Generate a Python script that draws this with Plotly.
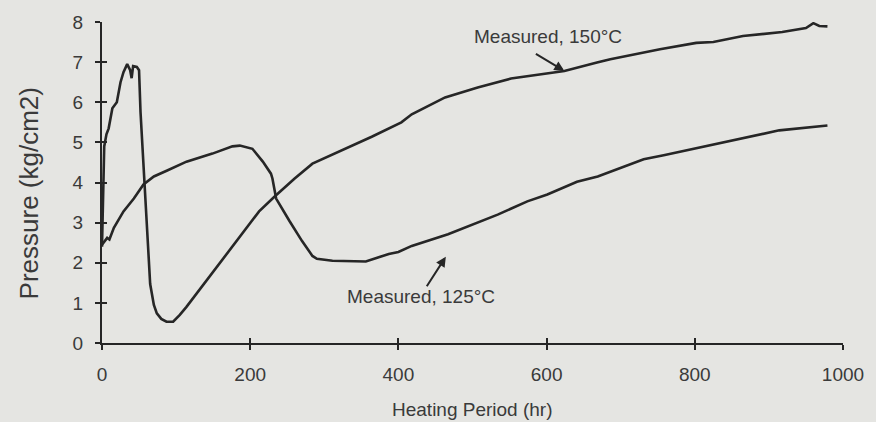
import plotly.graph_objects as go

# Measured, 150°C
hr_150 = [0, 3, 6, 9, 14, 20, 25, 29, 34, 38, 40, 42, 47, 50, 52, 56, 61, 65, 70, 74, 80, 87, 96, 105, 114,
          141, 168, 195, 212, 233, 260, 284, 320, 364, 404, 418, 463, 507, 552, 624, 668, 686, 753, 802,
          825, 865, 918, 950, 960, 968, 979]
p_150 = [2.4, 4.9, 5.2, 5.35, 5.85, 6.0, 6.5, 6.75, 6.95, 6.8, 6.6, 6.9, 6.88, 6.8, 5.75, 4.35, 2.7, 1.47,
         0.95, 0.74, 0.6, 0.53, 0.53, 0.7, 0.9, 1.56, 2.22, 2.87, 3.28, 3.65, 4.1, 4.47, 4.77, 5.14, 5.5,
         5.7, 6.12, 6.37, 6.59, 6.78, 6.99, 7.07, 7.32, 7.48, 7.5, 7.65, 7.75, 7.85, 7.97, 7.9, 7.89]

# Measured, 125°C
hr_125 = [0, 7, 10, 16, 29, 43, 56, 70, 88, 114, 149, 176, 186, 196, 203, 217, 228, 230, 232, 235, 253,
          270, 284, 290, 311, 356, 387, 400, 418, 454, 467, 534, 574, 601, 641, 669, 731, 758, 802, 847,
          883, 914, 979]
p_125 = [2.45, 2.62, 2.58, 2.87, 3.28, 3.6, 3.95, 4.15, 4.3, 4.52, 4.72, 4.9, 4.92, 4.88, 4.84, 4.52,
         4.22, 4.1, 3.85, 3.6, 3.04, 2.54, 2.17, 2.1, 2.05, 2.03, 2.22, 2.27, 2.42, 2.62, 2.71, 3.2, 3.53,
         3.7, 4.02, 4.15, 4.58, 4.68, 4.85, 5.03, 5.18, 5.3, 5.42]

x_ticks = [0, 200, 400, 600, 800, 1000]
y_ticks = [0, 1, 2, 3, 4, 5, 6, 7, 8]

INK = "#262626"
TXT = "#3a3a3a"
BG = "#e5e5e2"
FONT = "Liberation Sans, Arial, sans-serif"

fig = go.Figure()
fig.add_trace(go.Scatter(x=hr_150, y=p_150, mode="lines", line=dict(color=INK, width=2.6),
                         name="Measured, 150°C", showlegend=False))
fig.add_trace(go.Scatter(x=hr_125, y=p_125, mode="lines", line=dict(color=INK, width=2.6),
                         name="Measured, 125°C", showlegend=False))
# helper trace so the overlay axes (inner half of crossing ticks) are drawn
fig.add_trace(go.Scatter(x=[], y=[], xaxis="x2", yaxis="y2", showlegend=False, hoverinfo="skip"))

axis_common = dict(showgrid=False, zeroline=False)
fig.update_layout(
    width=876, height=422,
    margin=dict(l=101.5, r=28.3, t=19.3, b=79),
    paper_bgcolor=BG, plot_bgcolor=BG,
    font=dict(family=FONT, color=TXT),
    xaxis=dict(range=[0, 1000], tickvals=x_ticks, ticks="outside", ticklen=5, tickwidth=1.5,
               tickcolor=INK, showline=True, linecolor=INK, linewidth=2,
               tickfont=dict(size=19, color=TXT), ticklabelstandoff=8,
               **axis_common),
    yaxis=dict(range=[0, 8], tickvals=y_ticks, ticks="outside", ticklen=5, tickwidth=1.5,
               tickcolor=INK, showline=True, linecolor=INK, linewidth=2,
               tickfont=dict(size=19, color=TXT), ticklabelstandoff=8, **axis_common),
    xaxis2=dict(range=[0, 1000], tickvals=x_ticks, ticks="inside", ticklen=5, tickwidth=1.5,
                tickcolor=INK, showticklabels=False, showline=False, overlaying="x",
                **axis_common),
    yaxis2=dict(range=[0, 8], tickvals=y_ticks, ticks="inside", ticklen=5, tickwidth=1.5,
                tickcolor=INK, showticklabels=False, showline=False, overlaying="y",
                **axis_common),
)

# axis titles placed as in the original
fig.add_annotation(text="Pressure (kg/cm2)", xref="paper", yref="paper", x=-0.0985, y=0.466,
                   textangle=-90, showarrow=False, font=dict(size=26, color=TXT),
                   xanchor="center", yanchor="middle")
fig.add_annotation(text="Heating Period (hr)", xref="paper", yref="paper", x=0.5, y=-0.207,
                   showarrow=False, font=dict(size=19, color=TXT),
                   xanchor="center", yanchor="middle")

# Labels with arrows
fig.add_annotation(text="Measured, 150°C", x=602, y=7.64, showarrow=False,
                   font=dict(size=19, color=TXT))
fig.add_annotation(text="", x=624, y=6.78, ax=-30, ay=-18, showarrow=True, arrowhead=2,
                   arrowsize=1, arrowwidth=2, arrowcolor=INK)
fig.add_annotation(text="Measured, 125°C", x=431, y=1.16, showarrow=False,
                   font=dict(size=19, color=TXT))
fig.add_annotation(text="", x=464, y=2.15, ax=-20, ay=31, showarrow=True, arrowhead=2,
                   arrowsize=1, arrowwidth=2, arrowcolor=INK)

fig.write_html("out.html", config={"displayModeBar": False},
               post_script="document.body.style.margin='0';document.body.style.background='%s';" % BG)
